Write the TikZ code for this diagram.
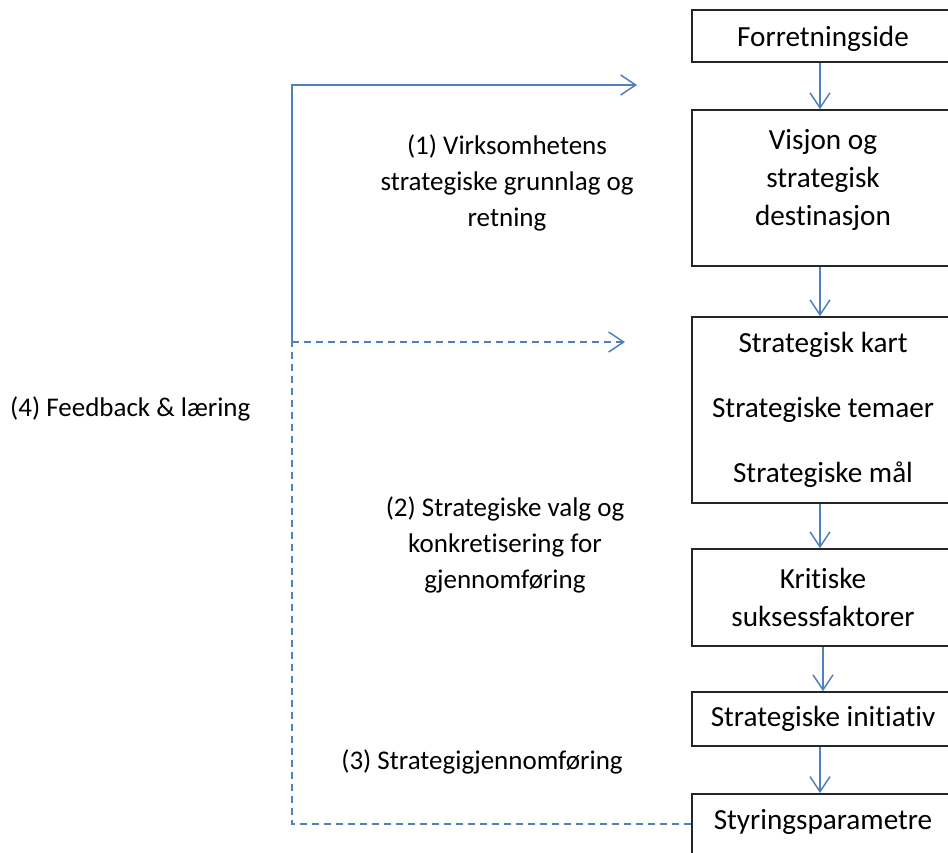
\documentclass[tikz,border=0pt]{standalone}
\usepackage{fontspec}
\setmainfont{Carlito}[Ligatures=CommonOff]
\usetikzlibrary{arrows.meta}
\definecolor{flow}{RGB}{79,129,189}
\begin{document}
\begin{tikzpicture}[x=1pt,y=-1pt,
  box/.style={draw=black!85, line width=1.6pt, minimum width=262pt, inner sep=0pt,
    align=center, font=\fontsize{29.2}{38}\selectfont},
  lbl/.style={align=center, font=\fontsize{27}{36}\selectfont, inner sep=0pt},
  flowline/.style={draw=flow, line width=1.5pt},
  tip/.style={-{Straight Barb[length=15pt,width=20pt,line width=1.5pt]}},
  dashline/.style={dash pattern=on 7pt off 5pt}]
\useasboundingbox (0,0) rectangle (948,852);

% chain of boxes on the right
\node[box, minimum height=52pt, text height=26pt, text depth=6pt] (forr) at (823,36) {Forretningside};
\node[box, minimum height=156pt] (visj) at (823,188) {Visjon og\\strategisk\\destinasjon\\[-16pt]\mbox{}};
\node[box, minimum height=186pt] (kart) at (823,410) {Strategisk kart\\[27pt]Strategiske temaer\\[27pt]Strategiske mål};
\node[box, minimum height=97pt]  (krit) at (823,597.5) {Kritiske\\suksessfaktorer};
\node[box, minimum height=54pt]  (init) at (823,719) {Strategiske initiativ};
\node[box, minimum height=80pt, anchor=north, text depth=28pt] (styr) at (823,793) {Styringsparametre};

% vertical flow arrows
\coordinate (ax) at (820,0);
\draw[flowline,tip] (forr.south -| ax) -- (visj.north -| ax);
\draw[flowline,tip] (visj.south -| ax) -- (kart.north -| ax);
\draw[flowline,tip] (kart.south -| ax) -- (krit.north -| ax);
\draw[flowline,tip] ([xshift=3pt]krit.south -| ax) -- ([xshift=3pt]init.north -| ax);
\draw[flowline,tip] (init.south -| ax) -- (styr.north -| ax);

% side labels
\node[lbl] (l1) at (507,183) {(1) Virksomhetens\\strategiske grunnlag og\\retning};
\node[lbl] (l2) at (505,545) {(2) Strategiske valg og\\konkretisering for\\gjennomføring};
\node[lbl] (l3) at (482,762) {(3) Strategigjennomføring};
\node[lbl, anchor=west] (l4) at (10,409) {(4) Feedback \& læring};

% feedback loop
\coordinate (fbtop) at (292,85);
\coordinate (fbmid) at (292,342);
\coordinate (fbbot) at (292,824);
\coordinate (endtop) at (637,85);
\coordinate (endmid) at (625,342);
\draw[flowline,tip] (fbmid) -- (fbtop) -- (endtop);
\draw[flowline,dashline,tip] (fbmid) -- (endmid);
\draw[flowline,dashline] (styr.west |- fbbot) -- (fbbot) -- (fbmid);
\end{tikzpicture}
\end{document}
